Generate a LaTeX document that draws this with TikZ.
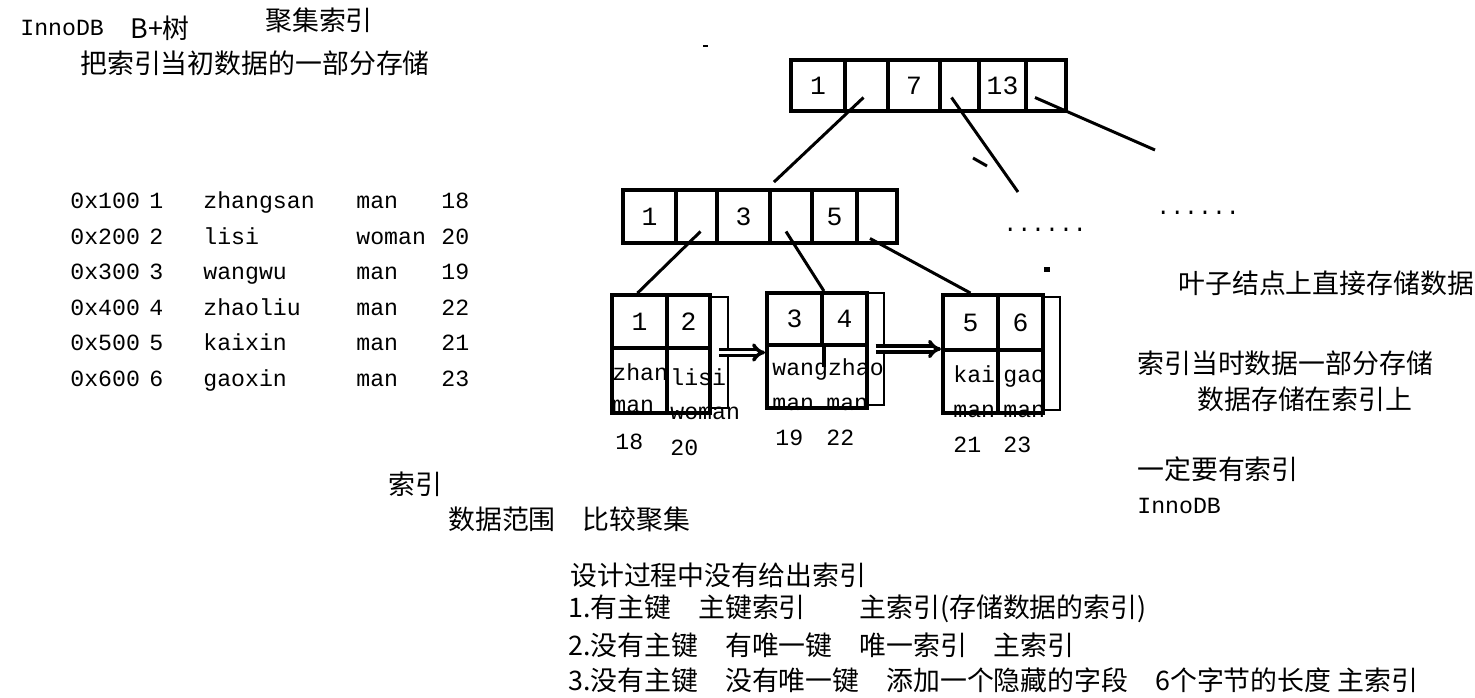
\documentclass[tikz,border=0pt]{standalone}
\usepackage{fontspec}
\setmainfont{Liberation Mono}
\newfontfamily\cjk{Noto Sans CJK SC}
\usepackage{tikz}
\usetikzlibrary{arrows.meta}
\newcommand{\zhtext}{\cjk\fontsize{15.3}{18}\selectfont}
\newcommand{\entext}{\fontsize{13.2}{16}\selectfont}
\newcommand{\keytext}{\fontsize{15}{17}\selectfont}

\begin{document}
\begin{tikzpicture}[
    x=0.02cm, y=-0.02cm,
    cell/.style 2 args={draw, line width=2.2pt, inner sep=0pt, minimum width=#1*0.02cm, minimum height=#2*0.02cm, font=\keytext},
    ptr/.style 2 args={draw, line width=1.6pt, inner sep=0pt, minimum width=#1*0.02cm, minimum height=#2*0.02cm},
    txt/.style={anchor=west, inner sep=0pt, text height=8pt, text depth=0pt, font=\entext},
    zh/.style={anchor=west, inner sep=0pt, font=\zhtext},
    conn/.style={line width=1.7pt},
    link/.style={double, double distance=1.2pt, line width=2pt, -{Implies}}
]
  \useasboundingbox (0,0) rectangle (1475,697);

  % notes, top left
  \node[txt] (inno) at (20,28) {InnoDB};
  \node[zh] (bplus) at (130,28) {B+树};
  \node[zh] (title) at (265,20) {聚集索引};
  \node[zh] (note1) at (80,63) {把索引当初数据的一部分存储};

  % table rows
  \node[txt] (adr1) at (70,201) {0x100}; \node[txt] (id1) at (149,201) {1};
  \node[txt] (nm1) at (203,201) {zhangsan}; \node[txt] (sx1) at (356,201) {man}; \node[txt] (ag1) at (441,201) {18};
  \node[txt] (adr2) at (70,237) {0x200}; \node[txt] (id2) at (149,237) {2};
  \node[txt] (nm2) at (203,237) {lisi}; \node[txt] (sx2) at (356,237) {woman}; \node[txt] (ag2) at (441,237) {20};
  \node[txt] (adr3) at (70,272) {0x300}; \node[txt] (id3) at (149,272) {3};
  \node[txt] (nm3) at (203,272) {wangwu}; \node[txt] (sx3) at (356,272) {man}; \node[txt] (ag3) at (441,272) {19};
  \node[txt] (adr4) at (70,308) {0x400}; \node[txt] (id4) at (149,308) {4};
  \node[txt] (nm4) at (203,308) {zhaoliu}; \node[txt] (sx4) at (356,308) {man}; \node[txt] (ag4) at (441,308) {22};
  \node[txt] (adr5) at (70,343) {0x500}; \node[txt] (id5) at (149,343) {5};
  \node[txt] (nm5) at (203,343) {kaixin}; \node[txt] (sx5) at (356,343) {man}; \node[txt] (ag5) at (441,343) {21};
  \node[txt] (adr6) at (70,379) {0x600}; \node[txt] (id6) at (149,379) {6};
  \node[txt] (nm6) at (203,379) {gaoxin}; \node[txt] (sx6) at (356,379) {man}; \node[txt] (ag6) at (441,379) {23};

  % root
  \node[cell={54}{51}] (r1) at (818,85.5) {1};
  \node[cell={43}{51}] (r2) at (866.5,85.5) {};
  \node[cell={52}{51}] (r3) at (914,85.5) {7};
  \node[cell={39}{51}] (r4) at (959.5,85.5) {};
  \node[cell={47}{51}] (r5) at (1002.5,85.5) {13};
  \node[cell={40}{51}] (r6) at (1046,85.5) {};

  % second level
  \node[cell={53}{53}] (m1) at (649.5,216.5) {1};
  \node[cell={41}{53}] (m2) at (696.5,216.5) {};
  \node[cell={53}{53}] (m3) at (743.5,216.5) {3};
  \node[cell={42}{53}] (m4) at (791,216.5) {};
  \node[cell={45}{53}] (m5) at (834.5,216.5) {5};
  \node[cell={40}{53}] (m6) at (877,216.5) {};

  % leaves
  \node[cell={55}{53}] (a1) at (639.5,321.5) {1};
  \node[cell={43}{53}] (a2) at (688.5,321.5) {2};
  \node[cell={55}{65}] (a1d) at (639.5,380.5) {};
  \node[cell={43}{65}] (a2d) at (688.5,380.5) {};
  \node[ptr={18}{111}] (ap) at (719,352.5) {};

  \node[cell={55}{52}] (b1) at (794.5,319) {3};
  \node[cell={45}{52}] (b2) at (844.5,319) {4};
  \node[cell={100}{63}] (bd) at (817,376.5) {};
  \draw[line width=2.2pt] (b1.south east) -- ++(0,20);
  \node[ptr={17}{112}] (bp) at (875.5,349) {};

  \node[cell={55}{55}] (c1) at (970.5,322.5) {5};
  \node[cell={45}{55}] (c2) at (1020.5,322.5) {6};
  \node[cell={55}{63}] (c1d) at (970.5,381.5) {};
  \node[cell={45}{63}] (c2d) at (1020.5,381.5) {};
  \node[ptr={17}{113}] (cp) at (1051.5,353.5) {};

  % leaf data
  \node[txt] (a1n) at (612,373) {zhan};
  \node[txt] (a2n) at (670,378) {lisi};
  \node[txt] (a1s) at (612,405) {man};
  \node[txt] (a2s) at (670,412) {woman};
  \node[txt] (a1g) at (615,442) {18};
  \node[txt] (a2g) at (670,448) {20};
  \node[txt] (bn) at (772,368) {wangzhao};
  \node[txt] (b1s) at (772,403) {man};
  \node[txt] (b2s) at (826,403) {man};
  \node[txt] (b1g) at (775,438) {19};
  \node[txt] (b2g) at (826,438) {22};
  \node[txt] (c1n) at (953,375) {kai};
  \node[txt] (c2n) at (1003,375) {gao};
  \node[txt] (c1s) at (953,410) {man};
  \node[txt] (c2s) at (1003,410) {man};
  \node[txt] (c1g) at (953,445) {21};
  \node[txt] (c2g) at (1003,445) {23};

  % pointers
  \coordinate (dotsA) at (1018,192);
  \coordinate (dotsB) at (1155,150);
  \draw[conn] ([shift={(-3,12)}]r2.center) -- ([shift={(2,-6)}]m3.north east);
  \draw[conn] ([shift={(-8,12)}]r4.center) -- (dotsA);
  \draw[conn] (973,158) -- (987,166);
  \draw[conn] ([shift={(-11,12)}]r6.center) -- (dotsB);
  \node[txt] (dA) at (1003,224) {......};
  \node[txt] (dB) at (1156,207) {......};
  \draw[conn] ([shift={(4,15)}]m2.center) -- ([shift={(-2,0)}]a1.north);
  \draw[conn] ([shift={(-5,15)}]m4.center) -- (b1.north east);
  \draw[conn] ([shift={(-7,22)}]m6.center) -- (c1.north);
  \draw[link] (ap.center) -- (ap.center -| bd.west);
  \draw[link] (bp.center) -- (bp.center -| c1d.west);
  \fill (1044,267) rectangle (1050,272);
  \fill (703,45) rectangle (708,47);

  % notes, right
  \node[zh] (leafnote) at (1178,283) {叶子结点上直接存储数据};
  \node[zh] (note2) at (1137,363) {索引当时数据一部分存储};
  \node[zh] (note3) at (1197,399) {数据存储在索引上};
  \node[zh] (must) at (1137,469) {一定要有索引};
  \node[txt] (inno2) at (1137,506) {InnoDB};

  % notes, bottom
  \node[zh] (idx) at (388,484) {索引};
  \node[zh] (range) at (448,519) {数据范围　比较聚集};
  \node[zh] (design) at (570,575) {设计过程中没有给出索引};
  \node[zh] (case1) at (568,609) {1.有主键　主键索引　　主索引(存储数据的索引)};
  \node[zh] (case2) at (568,645) {2.没有主键　有唯一键　唯一索引　主索引};
  \node[zh] (case3) at (568,680) {3.没有主键　没有唯一键　添加一个隐藏的字段　6个字节的长度 主索引};
\end{tikzpicture}
\end{document}
